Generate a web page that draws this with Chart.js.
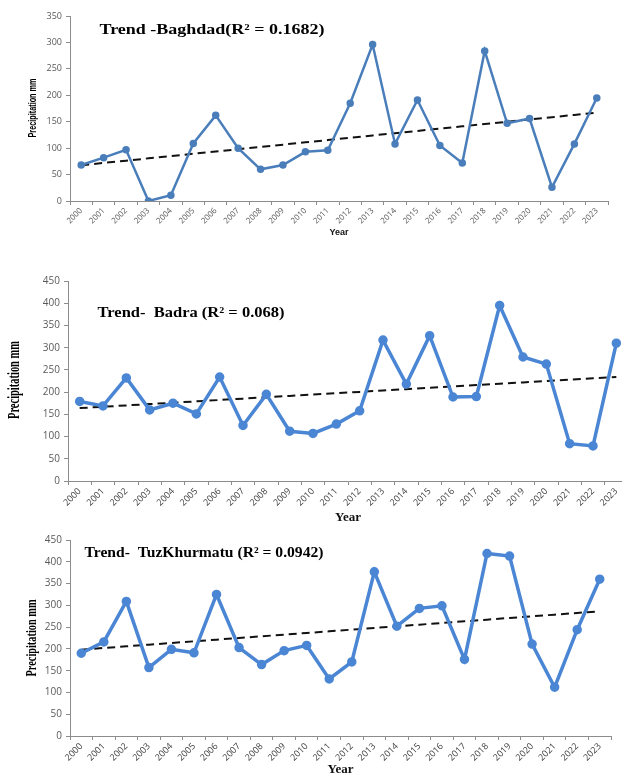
<!DOCTYPE html>
<html>
<head>
<meta charset="utf-8">
<script src="https://cdn.jsdelivr.net/npm/chart.js@4"></script>
<style>
  html, body { margin: 0; padding: 0; background: #fff; overflow: hidden; }
  body { width: 622px; height: 776px; position: relative; }
  .box { position: absolute; left: 0; width: 622px; overflow: hidden; }
</style>
</head>
<body>
<div class="box" style="top:0;height:245px"><canvas id="c1" width="622" height="245"></canvas></div>
<div class="box" style="top:262px;height:265px"><canvas id="c2" width="640" height="265"></canvas></div>
<div class="box" style="top:525px;height:251px"><canvas id="c3" width="622" height="251"></canvas></div>
<script>
// years on the x axis
const years = ['2000','2001','2002','2003','2004','2005','2006','2007','2008','2009','2010','2011',
  '2012','2013','2014','2015','2016','2017','2018','2019','2020','2021','2022','2023'];

// annual precipitation (mm)
const baghdad = [68, 82, 97, 0, 11, 109, 162, 100, 60, 68, 93, 96, 185, 296, 108, 191, 105, 72, 284, 147, 156, 26, 108, 195];
const badra = [179, 169, 232, 160, 175, 151, 234, 125, 195, 112, 107, 128, 158, 317, 218, 327, 189, 190, 395, 279, 263, 84, 79, 310];
const tuz = [190, 216, 309, 157, 199, 191, 325, 203, 164, 196, 208, 131, 170, 377, 252, 293, 299, 176, 419, 413, 211, 112, 244, 360];

const titleBaghdad = 'Trend -Baghdad(R² = 0.1682)';
const titleBadra = 'Trend-  Badra (R² = 0.068)';
const titleTuz = 'Trend-  TuzKhurmatu (R² = 0.0942)';
const yTitle = 'Precipitation mm';
const xTitle = 'Year';

// least squares linear trend, like the Excel trendline
function trend(vals) {
  const n = vals.length, mx = (n - 1) / 2;
  const my = vals.reduce((a, b) => a + b, 0) / n;
  let sxy = 0, sxx = 0;
  vals.forEach((v, i) => { sxy += (i - mx) * (v - my); sxx += (i - mx) * (i - mx); });
  const b = sxy / sxx;
  return vals.map((v, i) => my + b * (i - mx));
}

// free text drawn on the canvas (inner title, squeezed axis title)
const overlayText = {
  id: 'overlayText',
  afterDraw(chart, args, opts) {
    const ctx = chart.ctx;
    (opts.items || []).forEach(t => {
      ctx.save();
      ctx.font = t.font;
      ctx.fillStyle = t.color || '#000';
      ctx.textAlign = 'center';
      ctx.textBaseline = 'middle';
      ctx.translate(t.x, t.y);
      if (t.rotate) ctx.rotate(t.rotate);
      const w = ctx.measureText(t.text).width;
      if (t.width) ctx.scale(t.width / w, 1);
      ctx.fillText(t.text, 0, 0);
      ctx.restore();
    });
  }
};

function makeChart(id, values, o) {
  new Chart(document.getElementById(id), {
    type: 'line',
    data: {
      labels: years,
      datasets: [
        {
          data: values, borderColor: o.color, backgroundColor: o.color,
          borderWidth: o.lineWidth, pointRadius: o.pointRadius, pointHoverRadius: o.pointRadius, tension: 0
        },
        {
          data: trend(values), borderColor: '#111', borderWidth: 2, borderDash: [8, 5],
          pointRadius: 0, tension: 0
        }
      ]
    },
    options: {
      responsive: false, animation: false,
      layout: { padding: { top: o.padTop, right: o.padRight, left: 0, bottom: 0 } },
      plugins: {
        legend: { display: false }, tooltip: { enabled: false },
        overlayText: { items: o.texts }
      },
      scales: {
        x: {
          offset: true,
          afterFit: s => { s.height = o.xHeight; },
          border: { color: '#8c8c8c' },
          grid: { display: true, offset: true, drawOnChartArea: false, drawTicks: true, tickLength: 4, color: '#8c8c8c' },
          ticks: { color: o.xTickColor, font: { family: 'Open Sans', size: o.xTickSize }, minRotation: 45, maxRotation: 45, autoSkip: false, padding: 1 },
          title: { display: true, text: xTitle, color: '#111', font: o.xTitleFont, padding: { top: 0, bottom: o.xTitlePad } }
        },
        y: {
          min: 0, max: o.yMax,
          afterFit: s => { s.width = o.yWidth; },
          border: { color: '#8c8c8c' },
          grid: { display: true, drawOnChartArea: false, drawTicks: true, tickLength: 4, color: '#8c8c8c' },
          ticks: { stepSize: 50, color: '#595959', font: { family: 'Open Sans', size: o.yTickSize }, padding: 4 }
        }
      }
    },
    plugins: [overlayText]
  });
}

makeChart('c1', baghdad, {
  color: '#4a7ebb', lineWidth: 2.5, pointRadius: 2.5, yMax: 350, yWidth: 70, padTop: 16, padRight: 14, xHeight: 44,
  xTickSize: 8, yTickSize: 9, xTickColor: '#595959',
  xTitleFont: { family: 'Liberation Sans', size: 9, weight: 'bold', lineHeight: 1.2 }, xTitlePad: 7,
  texts: [
    { text: titleBaghdad, font: 'bold 15px "Liberation Serif"', x: 212, y: 30, width: 225 },
    { text: yTitle, font: 'bold 10px "Liberation Sans"', x: 33, y: 108, width: 59, rotate: -Math.PI / 2 }
  ]
});

makeChart('c2', badra, {
  color: '#4a86d4', lineWidth: 3.5, pointRadius: 3, yMax: 450, yWidth: 68, padTop: 19, padRight: 12, xHeight: 46,
  xTickSize: 9, yTickSize: 10, xTickColor: '#404040',
  xTitleFont: { family: 'Liberation Serif', size: 13, weight: 'bold', lineHeight: 1.2 }, xTitlePad: 2,
  texts: [
    { text: titleBadra, font: 'bold 14px "Liberation Serif"', x: 191, y: 51, width: 187 },
    { text: yTitle, font: 'bold 16px "Liberation Serif"', x: 15, y: 118, width: 78, rotate: -Math.PI / 2 }
  ]
});

makeChart('c3', tuz, {
  color: '#4a86d4', lineWidth: 3.5, pointRadius: 3, yMax: 450, yWidth: 70, padTop: 15, padRight: 11, xHeight: 40,
  xTickSize: 9, yTickSize: 10, xTickColor: '#404040',
  xTitleFont: { family: 'Liberation Serif', size: 13, weight: 'bold', lineHeight: 1 }, xTitlePad: 0,
  texts: [
    { text: titleTuz, font: 'bold 14px "Liberation Serif"', x: 204, y: 28, width: 239 },
    { text: yTitle, font: 'bold 14px "Liberation Serif"', x: 32, y: 113, width: 77, rotate: -Math.PI / 2 }
  ]
});
</script>
</body>
</html>
